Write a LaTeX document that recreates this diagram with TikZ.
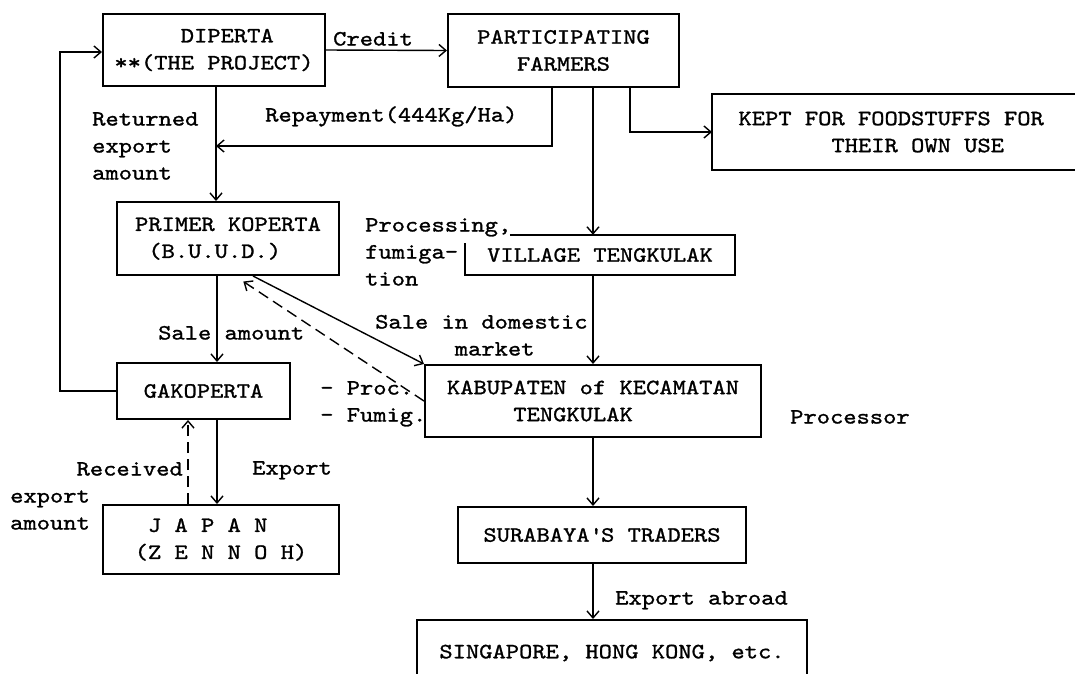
\documentclass[tikz,border=0pt]{standalone}
\usepackage{fontspec}
\usetikzlibrary{arrows.meta}
% Typewriter face, widened and darkened a little to the pitch of the original typing
\newfontfamily\tw{lmmono10-regular.otf}[FakeStretch=1.16,FakeBold=1.2]
\begin{document}
\begin{tikzpicture}[x=1pt,y=-1pt,
  font={\tw\fontsize{21.8pt}{27pt}\selectfont},
  box/.style={draw,line width=2pt,inner sep=0pt,align=center},
  plain/.style={inner sep=0pt,align=center},
  lbl/.style={inner sep=0pt,anchor=base west,align=left},
  conn/.style={line width=1.4pt,-{Straight Barb[length=7pt,width=12pt,line width=1.4pt]}},
  dconn/.style={conn,dash pattern=on 11pt off 6pt}]
\fill[white] (0,0) rectangle (1075,673);
\useasboundingbox (0,0) rectangle (1075,673);

% boxes
\node[box,minimum width=222pt,minimum height=72pt,align=left] (dip) at (214,50)
  {\phantom{*****}DIPERTA\\**(THE PROJECT)};
\node[box,minimum width=231pt,minimum height=73pt] (par) at (563.5,50.5)
  {PARTICIPATING\\FARMERS};
% this box runs on past the right margin
\node[plain,anchor=west,minimum width=358pt,minimum height=76pt,align=left] (kept) at (712,132)
  {KEPT FOR FOODSTUFFS FOR\\\phantom{xxxxxxx}THEIR OWN USE};
\draw[line width=2pt] ([xshift=40pt]kept.north east) -- (kept.north west)
  -- (kept.south west) -- ([xshift=40pt]kept.south east);
\node[box,minimum width=222pt,minimum height=73pt,align=left] (pri) at (228,238.5)
  {PRIMER KOPERTA\\\phantom{x}(B.U.U.D.)};
\node[plain,minimum width=270pt,minimum height=40pt] (vil) at (600,255)
  {VILLAGE TENGKULAK};
\draw[line width=2pt] ([xshift=45pt]vil.north west) -- (vil.north east) -- (vil.south east)
  -- (vil.south west) -- ([yshift=-8pt]vil.north west);
\node[box,minimum width=336pt,minimum height=72pt,align=left] (kab) at (593,401)
  {KABUPATEN of KECAMATAN\\\phantom{xxxxx}TENGKULAK};
\node[box,minimum width=173pt,minimum height=56pt] (gak) at (203.5,391)
  {GAKOPERTA};
\node[box,minimum width=236pt,minimum height=69pt,align=left] (jap) at (221,539.5)
  {\phantom{x}J A P A N\\(Z E N N O H)};
\node[box,minimum width=288pt,minimum height=56pt] (sur) at (602,535)
  {SURABAYA\textquotesingle S TRADERS};
\node[box,minimum width=390pt,minimum height=66pt] (sin) at (612,653)
  {SINGAPORE, HONG KONG, etc.};

% routing columns and bends
\coordinate (fb) at (60,52);
\coordinate (rpx) at (552,146);
\coordinate (rp) at (216,146);
\coordinate (c1) at (216,0);
\coordinate (c2) at (593,0);
\coordinate (c3) at (630,0);
\coordinate (c4) at (217,0);
\coordinate (c5) at (188,0);

% connectors
\draw[conn] (gak.west) -| (fb) -- (fb -| dip.west);
\draw[conn] (dip.east) -- (par.west);
\draw[conn] (par.south -| rpx) -- (rpx) -- (rp);
\draw[conn] (dip.south -| c1) -- (pri.north -| c1);
\draw[conn] (par.south -| c2) -- (vil.north -| c2);
\draw[conn] (par.south -| c3) |- (kept.west);
\draw[conn] (vil.south -| c2) -- (kab.north -| c2);
\draw[conn] ([xshift=25pt]pri.south) -- (kab.north west);
\draw[dconn,shorten >=10pt] (kab.west) -- ([xshift=7pt]pri.south);
\draw[conn] (pri.south -| c4) -- (gak.north -| c4);
\draw[conn] (gak.south -| c4) -- (jap.north -| c4);
\draw[dconn] (jap.north -| c5) -- (gak.south -| c5);
\draw[conn] (kab.south -| c2) -- (sur.north -| c2);
\draw[conn] (sur.south -| c2) -- (sin.north -| c2);

% labels (a multi-line label sits on the baseline of its last line)
\node[lbl] (lcredit) at (333,45.5) {Credit};
\node[lbl] (lrepay) at (265,121.5) {Repayment(444Kg/Ha)};
\node[lbl] (lret) at (92,179.5) {Returned\\export\\amount};
\node[lbl] (lproc) at (365,285.5) {Processing,\\fumiga-\\tion};
\node[lbl] (ldom) at (375,355.5) {Sale in domestic\\\phantom{xxxxxx}market};
\node[lbl] (lsale) at (158,339.5) {Sale amount};
\node[lbl] (lpf) at (320,421.5) {- Proc.\\- Fumig.};
\node[lbl] (lprocr) at (790,423.5) {Processor};
\node[lbl] (lrec) at (10,529.5) {\phantom{xxxxx}Received\\export\\amount};
\node[lbl] (lexp) at (252,474.5) {Export};
\node[lbl] (labroad) at (615,604.5) {Export abroad};
\end{tikzpicture}
\end{document}
